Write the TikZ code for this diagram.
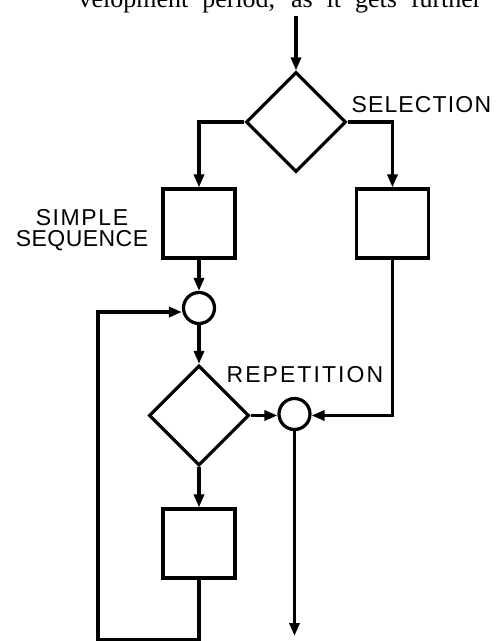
\documentclass[tikz,border=0pt]{standalone}
\usepackage{fontspec}
\setmainfont{Liberation Serif}
\newfontfamily\labfont{Liberation Sans}
\usetikzlibrary{shapes.geometric,arrows.meta}
\begin{document}
\begin{tikzpicture}[x=1pt,y=-1pt,
  line width=3.2pt,
  arr/.style={-{Triangle[length=13pt,width=10pt]}},
  proc/.style={draw, rectangle, minimum width=72pt, minimum height=69pt, inner sep=0pt},
  dec/.style={draw, diamond, minimum width=100pt, minimum height=100pt, inner sep=0pt},
  junc/.style={draw, circle, minimum size=31pt, inner sep=0pt},
  lab/.style={font=\labfont\fontsize{23}{27}\selectfont, inner sep=0pt},
  ]
\useasboundingbox (0,0) rectangle (501,641);
\clip (0,0) rectangle (501,641);
% clipped running text from the page above
\node[anchor=base west, inner sep=0pt, font=\fontsize{26}{30}\selectfont] (runtext) at (77,7.5)
  {\makebox[403pt][s]{velopment period, as it gets further}};
% shapes
\node[dec]  (d1) at (296,122) {};
\node[proc] (b1) at (199,223.5) {};
\node[proc] (b2) at (392.5,223.5) {};
\node[junc] (c1) at (199,308) {};
\node[dec]  (d2) at (199,415.5) {};
\node[junc] (c2) at (294.5,414) {};
\node[proc] (b3) at (199,543.5) {};
% free ends
\coordinate (top) at (296,16);
\coordinate (out) at (294.5,636);
\coordinate (lb) at (98,640);
% connectors
\draw[arr] (top) -- (d1.north);
\draw[arr] (d1.west) -| (b1.north);
\draw[arr] (d1.east) -| (b2.north);
\draw[arr] (b1.south) -- (c1.north);
\draw[arr] (c1.south) -- (d2.north);
\draw[arr] (d2.east) -- (d2.east -| c2.west);
\draw[arr] (b2.south) |- (d2.east -| c2.east);
\draw[arr] (c2.south) -- (out);
\draw[arr] (d2.south) -- (b3.north);
\draw[arr] (b3.south) |- (lb) |- ([yshift=-4pt]c1.west);
% labels
\node[lab, anchor=base west] (lsel) at (350,112) {\addfontfeature{LetterSpace=5}SELECTION};
\node[lab, anchor=base west] (lrep) at (225,382) {\addfontfeature{LetterSpace=9}REPETITION};
\node[lab, anchor=base] (lsim) at (82,225) {\addfontfeature{LetterSpace=7}SIMPLE};
\node[lab, anchor=base] (lseq) at (82,246) {\addfontfeature{LetterSpace=2}SEQUENCE};
\end{tikzpicture}
\end{document}
